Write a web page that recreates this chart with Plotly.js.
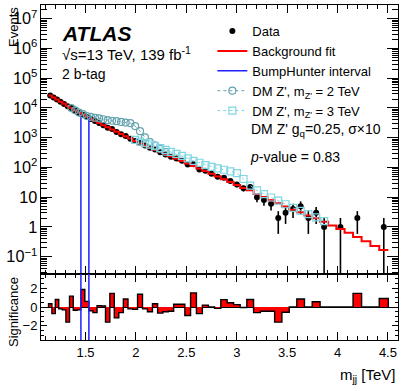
<!DOCTYPE html>
<html>
<head>
<meta charset="utf-8">
<script src="https://cdn.plot.ly/plotly-3.0.1.min.js"></script>
<style>
  body { margin: 0; background: #fff; }
  #plot { width: 407px; height: 391px; }
</style>
</head>
<body>
<div id="plot"></div>
<script>
// dijet mass bin edges [TeV]
const edges = [1.133, 1.166, 1.200, 1.234, 1.269, 1.305, 1.341, 1.378, 1.416, 1.454,
  1.493, 1.533, 1.573, 1.614, 1.656, 1.698, 1.741, 1.785, 1.830, 1.875,
  1.921, 1.968, 2.016, 2.065, 2.114, 2.164, 2.215, 2.267, 2.320, 2.374,
  2.429, 2.485, 2.542, 2.600, 2.659, 2.719, 2.780, 2.842, 2.905, 2.969,
  3.034, 3.100, 3.167, 3.235, 3.305, 3.376, 3.448, 3.521, 3.596, 3.672,
  3.749, 3.827, 3.907, 3.988, 4.070, 4.154, 4.239, 4.326, 4.414, 4.504];

// events per bin
const dataCounts = [26360, 22334, 19209, 16267, 13705, 11416, 9886, 8153, 6814, 5962,
  5042, 4250, 3620, 3120, 2647, 2168, 1955, 1546, 1315, 1150,
  929, 771, 678, 545, 456, 402, 322, 273, 229, 202,
  169, 126, 129, 86, 78, 61, 49, 45, 35, 27,
  20, 22, 10, 8, 6, 2, 3, 4, 5, 2,
  3, 1, 0, 1, 0, 2, 0, 0, 1];

const bkgFit = [26300, 22440, 19100, 16290, 13740, 11590, 9770, 8185, 6840, 5820,
  5000, 4276, 3656, 3112, 2642, 2244, 1892, 1592, 1337, 1122,
  935, 778, 644, 550, 467, 395, 334, 281, 236, 198,
  165, 137, 113, 93.1, 75.9, 61.5, 49.8, 40.1, 32.2, 25.8,
  20.6, 17.0, 12.9, 10.2, 7.98, 6.24, 4.85, 3.8, 3.1, 2.45,
  1.95, 1.5, 1.12, 0.86, 0.64, 0.46, 0.33, 0.23, 0.17];

const significance = [0.35, -0.7, 0.8, -0.2, -0.3, -1.6, 1.15, -0.35, -0.3, 1.85,
  0.6, -0.4, -0.6, 0.15, 0.1, -1.6, 1.45, -1.15, -0.6, 0.85,
  -0.2, -0.25, 1.35, -0.2, -0.5, 0.35, -0.65, -0.5, -0.45, 0.3,
  0.3, -0.9, 1.5, -0.7, 0.2, 0, -0.15, 0.78, 0.45, 0.25,
  -0.05, 0.8, -0.6, -0.45, -0.45, -1.6, -0.55, 0, 0.85, 0,
  0.55, 0, 0, 0, 0, 1.45, 0, 0, 0.9];

// DM Z' (g_q = 0.25, sigma x10) on top of the fit, first bin index (0-based)
const dmZ2First = 6;
const dmZ2Vals = [9890, 8318, 6998, 6166, 5370, 5012, 4677, 4467, 4169, 3890, 3715,
  3589, 3388, 3236, 3090, 2455, 1660, 1023, 708, 550, 417, 331];
const dmZ3First = 21;
const dmZ3Vals = [851, 741, 661, 589, 521, 451, 388, 333, 286, 244, 202, 167, 144,
  120, 104, 92.7, 83.8, 73.8, 64.7, 41.0, 24.7, 17.1, 12.8, 9.8, 7.7, 5.8, 4.4,
  3.5, 2.7, 2.1, 1.57];

// BumpHunter interval [TeV]
const bhLow = 1.454;
const bhHigh = 1.533;

const centers = edges.slice(0, -1).map((e, i) => (e + edges[i + 1]) / 2);
const widths = edges.slice(0, -1).map((e, i) => edges[i + 1] - e);

const dataX = [], dataY = [];
dataCounts.forEach(function (n, i) {
  if (n > 0) { dataX.push(centers[i]); dataY.push(n); }
});

const font = 'Liberation Sans, Arial, Helvetica, sans-serif';
const xRange = [1.058, 4.60];
const y2Range = [-3.5, 3.5];

const iLow = edges.indexOf(bhLow);
const iHigh = edges.indexOf(bhHigh) - 1;

const traces = [
  {
    x: dataX, y: dataY, type: 'scatter', mode: 'markers', name: 'Data',
    marker: {color: 'black', size: 6},
    error_y: {type: 'sqrt', color: 'black', thickness: 1.6, width: 0},
    xaxis: 'x', yaxis: 'y'
  },
  {
    x: edges, y: bkgFit.concat([bkgFit[bkgFit.length - 1]]), type: 'scatter', mode: 'lines',
    name: 'Background fit', line: {color: '#ff0000', width: 2, shape: 'hv'},
    xaxis: 'x', yaxis: 'y'
  },
  {
    x: [bhLow, bhLow, null, bhHigh, bhHigh],
    y: [0.01, dataCounts[iLow], null, 0.01, dataCounts[iHigh]],
    type: 'scatter', mode: 'lines', name: 'BumpHunter interval',
    line: {color: '#1f1fff', width: 1.5},
    xaxis: 'x', yaxis: 'y'
  },
  {
    x: centers.slice(dmZ2First, dmZ2First + dmZ2Vals.length), y: dmZ2Vals,
    type: 'scatter', mode: 'lines+markers', name: "DM Z', m<sub>Z'</sub> = 2 TeV",
    line: {color: '#62a3ad', width: 1, dash: 'dot'},
    marker: {symbol: 'circle-open', size: 7, color: '#62a3ad', line: {width: 1.2}},
    xaxis: 'x', yaxis: 'y'
  },
  {
    x: centers.slice(dmZ3First, dmZ3First + dmZ3Vals.length), y: dmZ3Vals,
    type: 'scatter', mode: 'lines+markers', name: "DM Z', m<sub>Z'</sub> = 3 TeV",
    line: {color: '#7fd6e0', width: 1, dash: 'dot'},
    marker: {symbol: 'square-open', size: 7, color: '#7fd6e0', line: {width: 1.2}},
    xaxis: 'x', yaxis: 'y'
  },
  // significance panel
  {
    x: centers, y: significance, width: widths, type: 'bar',
    marker: {color: '#ff0000', line: {width: 0}}, showlegend: false,
    xaxis: 'x2', yaxis: 'y2'
  },
  {
    x: [edges[0]].concat(edges, [edges[edges.length - 1]]),
    y: [0].concat(significance, [significance[significance.length - 1], 0]),
    type: 'scatter', mode: 'lines', line: {color: 'black', width: 1.4, shape: 'hv'},
    showlegend: false, xaxis: 'x2', yaxis: 'y2'
  },
  {
    x: [bhLow, bhLow, null, bhHigh, bhHigh],
    y: [y2Range[0], y2Range[1], null, y2Range[0], y2Range[1]],
    type: 'scatter', mode: 'lines', line: {color: '#1f1fff', width: 1.5},
    showlegend: false, xaxis: 'x2', yaxis: 'y2'
  }
];

const axisCommon = {
  showline: true, linecolor: 'black', linewidth: 1, mirror: 'ticks',
  ticks: 'inside', tickcolor: 'black', showgrid: false, zeroline: false
};

const layout = {
  width: 407, height: 391,
  margin: {l: 41, r: 9, t: 5, b: 51},
  paper_bgcolor: 'white', plot_bgcolor: 'white',
  font: {family: font, size: 13, color: 'black'},
  bargap: 0,
  xaxis: Object.assign({}, axisCommon, {
    range: xRange, anchor: 'y', tick0: 1, dtick: 0.5, ticklen: 8,
    showticklabels: false,
    minor: {dtick: 0.1, ticklen: 4, ticks: 'inside', tickcolor: 'black'}
  }),
  yaxis: Object.assign({}, axisCommon, {
    domain: [0.197, 1], type: 'log', range: [-1.58, 7.46], dtick: 1,
    exponentformat: 'power', ticklen: 11, anchor: 'x',
    tickfont: {size: 13},
    minor: {ticklen: 6, ticks: 'inside', tickcolor: 'black'}
  }),
  xaxis2: Object.assign({}, axisCommon, {
    range: xRange, anchor: 'y2', tick0: 1, dtick: 0.5, ticklen: 8,
    tickfont: {size: 13},
    minor: {dtick: 0.1, ticklen: 4, ticks: 'inside', tickcolor: 'black'}
  }),
  yaxis2: Object.assign({}, axisCommon, {
    domain: [0, 0.197], range: y2Range, tick0: 0, dtick: 2, ticklen: 6,
    anchor: 'x2', tickfont: {size: 13},
    zeroline: true, zerolinecolor: 'black', zerolinewidth: 1,
    minor: {dtick: 0.5, ticklen: 3, ticks: 'inside', tickcolor: 'black'}
  }),
  legend: {
    x: 0.48, y: 0.967, xanchor: 'left', yanchor: 'top',
    bgcolor: 'rgba(0,0,0,0)', font: {size: 13}, tracegroupgap: 0
  },
  annotations: [
    {text: '<b><i>ATLAS</i></b>', x: 0.053, y: 0.916, font: {size: 21}},
    {text: '\u221As=13 TeV, 139 fb<sup>-1</sup>', x: 0.053, y: 0.854, font: {size: 15}},
    {text: '2 b-tag', x: 0.053, y: 0.794, font: {size: 14}},
    {text: "DM Z' g<sub>q</sub>=0.25, \u03C3\u00D710", x: 0.582, y: 0.627, font: {size: 14}},
    {text: '<i>p</i>-value = 0.83', x: 0.579, y: 0.546, font: {size: 14}},
    {text: 'Events', x: -0.075, y: 0.935, textangle: -90, xanchor: 'center', font: {size: 13}},
    {text: 'Significance', x: -0.0755, y: 0.0836, textangle: -90, xanchor: 'center', font: {size: 13}},
    {text: 'm<sub>jj</sub> [TeV]', x: 0.9986, y: -0.1045, xanchor: 'right', font: {size: 15}}
  ].map(a => Object.assign({xref: 'paper', yref: 'paper', xanchor: 'left', yanchor: 'middle',
    showarrow: false}, a))
};

Plotly.newPlot('plot', traces, layout, {staticPlot: true});
</script>
</body>
</html>
